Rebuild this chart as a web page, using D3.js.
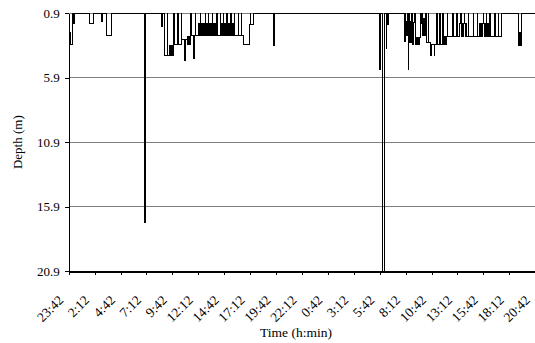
<!DOCTYPE html>
<html>
<head>
<meta charset="utf-8">
<script src="https://cdn.jsdelivr.net/npm/d3@7"></script>
<style>
  body { margin: 0; background: #fff; }
  svg { display: block; }
  text { font-family: "Liberation Serif", "Times New Roman", serif; fill: #000; }
</style>
</head>
<body>
<svg id="chart" width="535" height="343"></svg>
<script>
// tick labels on the time axis, every 150 min from 23:42
const timeLabels = ["23:42", "2:12", "4:42", "7:12", "9:42", "12:12", "14:42", "17:12", "19:42", "22:12",
                    "0:42", "3:12", "5:42", "8:12", "10:42", "13:12", "15:42", "18:12", "20:42"]
const depthTicks = [0.9, 5.9, 10.9, 15.9, 20.9]

// dive record: minutes since 23:42 and depth (m), held until the next reading
const timeMin = [0, 10, 13, 21, 25, 31, 119, 146, 191, 196, 220, 247, 439, 444,
  536, 542, 552, 569, 572, 585, 589, 592, 595, 599, 602, 609, 612, 631, 634, 652,
  654, 672, 675, 685, 688, 692, 696, 700, 705, 708, 723, 726, 731, 733, 754, 757,
  760, 762, 767, 771, 775, 780, 784, 789, 791, 796, 800, 804, 808, 810, 815, 819,
  823, 827, 831, 833, 837, 842, 847, 851, 856, 859, 876, 878, 887, 891, 895, 897,
  902, 906, 910, 914, 917, 921, 925, 930, 935, 939, 942, 946, 951, 958, 961, 981,
  984, 1001, 1003, 1010, 1047, 1052, 1055, 1067, 1184, 1191,
  1801, 1806, 1816, 1829, 1837, 1841, 1848, 1852,
  1942, 1948, 1951, 1955, 1958, 1963, 1965, 1969, 1972, 1977, 1980, 1984, 1987, 1990,
  1994, 1998, 2002, 2005, 2010, 2013, 2017, 2020, 2024, 2027, 2031, 2035, 2038, 2041,
  2045, 2048, 2052, 2056, 2060, 2065, 2068, 2081, 2084, 2095, 2099, 2116, 2119, 2131,
  2134, 2149, 2151, 2164, 2167, 2175, 2179, 2185, 2191, 2193, 2222, 2225, 2245, 2248,
  2264, 2269, 2271, 2275, 2280, 2284, 2288, 2290, 2295, 2299, 2304, 2312, 2315, 2341,
  2344, 2365, 2367, 2380, 2384, 2388, 2392, 2396, 2399, 2402, 2406, 2411, 2415, 2419,
  2421, 2426, 2431, 2435, 2438, 2440, 2467, 2469, 2486, 2488, 2506, 2602, 2609, 2613,
  2621, 2700]
const depthM = [3.3, 2.4, 3.3, 0.9, 1.7, 0.9, 1.7, 0.9, 1.5, 0.9, 2.6, 0.9, 17.1, 0.9,
  1.9, 0.9, 4.2, 0.9, 4.2, 3.4, 4.2, 3.4, 4.2, 3.4, 4.2, 0.9, 3.3, 0.9, 3.3, 0.9,
  2.9, 4.6, 2.9, 3.3, 2.7, 3.3, 2.7, 3.3, 0.9, 2.6, 4.4, 2.6, 0.9, 2.6, 1.7, 2.6,
  0.9, 1.7, 2.6, 1.7, 2.6, 1.7, 2.6, 0.9, 1.7, 2.6, 1.7, 2.6, 0.9, 1.7, 2.6, 1.7,
  2.6, 1.7, 0.9, 2.6, 1.7, 2.6, 1.7, 2.6, 0.9, 2.6, 0.9, 2.6, 1.7, 2.6, 0.9, 1.7,
  2.6, 1.7, 2.6, 0.9, 1.7, 2.6, 1.7, 2.6, 1.7, 0.9, 2.6, 1.7, 2.6, 0.9, 2.6, 0.9,
  2.6, 0.9, 2.6, 3.3, 1.8, 0.9, 1.8, 0.9, 3.4, 0.9,
  5.3, 0.9, 20.9, 0.9, 3.6, 0.9, 1.8, 0.9,
  3.1, 0.9, 2.6, 1.5, 2.6, 0.9, 5.3, 0.9, 3.2, 1.5, 3.2, 0.9, 3.3, 1.6,
  3.3, 1.6, 0.9, 3.3, 2.8, 3.3, 2.8, 3.3, 2.8, 3.3, 2.8, 0.9, 1.7, 0.9,
  2.6, 1.3, 2.6, 1.3, 2.6, 0.9, 3.2, 0.9, 3.2, 4.2, 3.3, 4.2, 3.3, 0.9,
  3.3, 0.9, 3.3, 0.9, 3.3, 2.7, 3.3, 2.7, 0.9, 2.7, 0.9, 2.7, 0.9, 2.7,
  1.7, 0.9, 2.7, 1.7, 2.7, 1.7, 0.9, 1.7, 2.7, 1.7, 2.7, 0.9, 2.7, 0.9,
  2.7, 0.9, 2.7, 1.7, 2.7, 1.7, 2.7, 1.7, 0.9, 1.7, 2.7, 1.7, 2.7, 0.9,
  1.7, 2.7, 1.7, 2.7, 0.9, 2.7, 0.9, 2.7, 0.9, 2.7, 0.9, 3.4, 2.4, 3.4,
  0.9, 0.9]

const plotLeft = 68.7, plotRight = 535.2, plotTop = 13.3, plotBottom = 271

const svg = d3.select("#chart")

const x = d3.scaleLinear().domain([0, 2700]).range([plotLeft, plotRight])
const y = d3.scaleLinear().domain([0.9, 20.9]).range([plotTop, plotBottom])

// gridlines
svg.append("g")
    .selectAll("line")
    .data(depthTicks.slice(0, -1))
    .enter()
    .append("line")
    .attr("x1", plotLeft).attr("x2", plotRight)
    .attr("y1", d => y(d)).attr("y2", d => y(d))
    .attr("stroke", "#808080")
    .attr("shape-rendering", "crispEdges")

// depth profile
const line = d3.line()
    .x(d => x(d[0]))
    .y(d => y(d[1]))
    .curve(d3.curveStepAfter)

svg.append("path")
    .datum(d3.zip(timeMin, depthM))
    .attr("fill", "none")
    .attr("stroke", "#000")
    .attr("stroke-width", 1)
    .attr("shape-rendering", "crispEdges")
    .attr("d", line)

// y axis
const yAxis = svg.append("g")
    .attr("transform", "translate(" + plotLeft + ",0)")
    .call(d3.axisLeft(y).tickValues(depthTicks).tickFormat(d3.format(".1f")).tickSize(4).tickSizeOuter(0).tickPadding(5))
    .attr("font-family", null)
    .attr("font-size", 13)
yAxis.selectAll("line, path").attr("stroke", "#000").attr("shape-rendering", "crispEdges")

// x axis
const xAxis = svg.append("g")
    .attr("transform", "translate(0," + plotBottom + ")")
    .call(d3.axisBottom(x).tickValues(d3.range(0, 2701, 150)).tickFormat((d, i) => timeLabels[i]).tickSize(4).tickSizeOuter(0))
    .attr("font-family", null)
    .attr("font-size", 13.5)
xAxis.select(".domain").attr("stroke-width", 2)
xAxis.selectAll("line, path").attr("stroke", "#000").attr("shape-rendering", "crispEdges")
xAxis.selectAll("text")
    .attr("x", 0).attr("y", 0).attr("dy", 0)
    .attr("text-anchor", "end")
    .attr("transform", "translate(-5,30) rotate(-45)")

// axis titles
svg.append("text")
    .attr("transform", "translate(22," + (plotTop + plotBottom) / 2 + ") rotate(-90)")
    .attr("text-anchor", "middle")
    .attr("font-size", 13)
    .text("Depth (m)")

svg.append("text")
    .attr("x", 296)
    .attr("y", 337)
    .attr("text-anchor", "middle")
    .attr("font-size", 13.5)
    .text("Time (h:min)")
</script>
</body>
</html>
